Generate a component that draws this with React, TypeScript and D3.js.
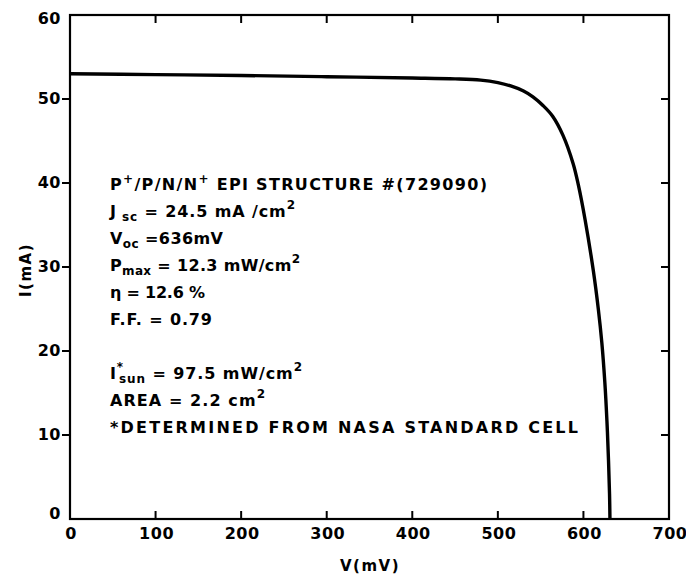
import React from "react";
import * as d3 from "d3";

const voltage = [0, 100, 200, 300, 400, 450, 480, 500, 515, 530, 541, 553, 564, 576, 588, 594, 602, 611.5, 617.5, 621.5, 625, 627.5, 629.3, 630.5, 631];
const current = [53.0, 52.9, 52.8, 52.65, 52.5, 52.4, 52.25, 51.95, 51.55, 50.95, 50.25, 49.2, 47.95, 45.7, 42.3, 39.8, 35.6, 29.6, 24.9, 21.0, 16.3, 11.6, 7.0, 3.0, 0];
const xTicks = [0, 100, 200, 300, 400, 500, 600, 700];
const yTicks = [0, 10, 20, 30, 40, 50, 60];

const W = 686, H = 577;
const FONT = "'DejaVu Sans', 'Liberation Sans', sans-serif";

export default function App() {
  const x = d3.scaleLinear().domain([0, 700]).range([70, 669]);
  const y = d3.scaleLinear().domain([0, 60]).range([519, 15]);
  const pts = voltage.map((v, i) => [v, current[i]] as [number, number]);
  const line = d3.line<[number, number]>().x(d => x(d[0])).y(d => y(d[1])).curve(d3.curveCatmullRom.alpha(0.5));

  const tx = 110;
  const ls = 27;
  const y0 = 190;
  const sub = { fontSize: 12 };
  const sup = { fontSize: 12 };

  return (
    <svg width={W} height={H} style={{ position: "absolute", left: 0, top: 0, background: "#fff" }} fontFamily={FONT} fontWeight="bold">
      <rect x={x(0)} y={y(60)} width={x(700) - x(0)} height={y(0) - y(60)} fill="none" stroke="#000" strokeWidth={2.2} />
      {yTicks.filter(t => t > 0 && t < 60).map(t => (
        <g key={"yt" + t}>
          <line x1={x(0) - 8} x2={x(0)} y1={y(t)} y2={y(t)} stroke="#000" strokeWidth={2} />
          <line x1={x(700) - 8} x2={x(700)} y1={y(t)} y2={y(t)} stroke="#000" strokeWidth={2} />
        </g>
      ))}
      {xTicks.filter(t => t > 0 && t < 700).map(t => (
        <g key={"xt" + t}>
          <line x1={x(t)} x2={x(t)} y1={y(0)} y2={y(0) - 8} stroke="#000" strokeWidth={2} />
          <line x1={x(t)} x2={x(t)} y1={y(60)} y2={y(60) + 8} stroke="#000" strokeWidth={2} />
        </g>
      ))}
      {yTicks.map(t => (
        <text key={"yl" + t} x={x(0) - 9} y={y(t) + (t === 0 ? 0 : t === 60 ? 9 : 5)} textAnchor="end" fontSize={16} letterSpacing={0.5}>
          {t}
        </text>
      ))}
      {xTicks.map(t => (
        <text key={"xl" + t} x={x(t) + 1} y={539} textAnchor="middle" fontSize={16} letterSpacing={0.5}>
          {t}
        </text>
      ))}
      <text x={370} y={571} textAnchor="middle" fontSize={15} letterSpacing={1.5}>V(mV)</text>
      <text transform="translate(31,270) rotate(-90)" textAnchor="middle" fontSize={15} letterSpacing={1.5}>I(mA)</text>

      <path d={line(pts) || ""} fill="none" stroke="#000" strokeWidth={3.4} strokeLinejoin="round" />

      <g fontSize={16}>
        <text x={tx} y={y0} textLength={377} lengthAdjust="spacing">
          P<tspan {...sup} dy={-7}>+</tspan><tspan dy={7}>/P/N/N</tspan><tspan {...sup} dy={-7}>+</tspan><tspan dy={7}> EPI STRUCTURE #(729090)</tspan>
        </text>
        <text x={tx} y={y0 + ls} textLength={185} lengthAdjust="spacing">
          J<tspan {...sub} dy={4}> sc</tspan><tspan dy={-4}> = 24.5 mA /cm</tspan><tspan {...sup} dy={-8}>2</tspan>
        </text>
        <text x={tx} y={y0 + ls * 2} textLength={113} lengthAdjust="spacing">
          V<tspan {...sub} dy={4}>oc</tspan><tspan dy={-4}> =636mV</tspan>
        </text>
        <text x={tx} y={y0 + ls * 3} textLength={190} lengthAdjust="spacing">
          P<tspan {...sub} dy={4}>max</tspan><tspan dy={-4}> = 12.3 mW/cm</tspan><tspan {...sup} dy={-8}>2</tspan>
        </text>
        <text x={tx} y={y0 + ls * 4} textLength={95} lengthAdjust="spacing">
          η = 12.6 %
        </text>
        <text x={tx} y={y0 + ls * 5} textLength={102} lengthAdjust="spacing">
          F.F. = 0.79
        </text>
        <text x={tx} y={y0 + ls * 7} textLength={192} lengthAdjust="spacing">
          I<tspan {...sup} dy={-8}>*</tspan><tspan {...sub} dy={12} dx={-5}>sun</tspan><tspan dy={-4}> = 97.5 mW/cm</tspan><tspan {...sup} dy={-8}>2</tspan>
        </text>
        <text x={tx} y={y0 + ls * 8} textLength={155} lengthAdjust="spacing">
          AREA = 2.2 cm<tspan {...sup} dy={-8}>2</tspan>
        </text>
        <text x={tx} y={y0 + ls * 9} textLength={468} lengthAdjust="spacing">
          *DETERMINED FROM NASA STANDARD CELL
        </text>
      </g>
    </svg>
  );
}
